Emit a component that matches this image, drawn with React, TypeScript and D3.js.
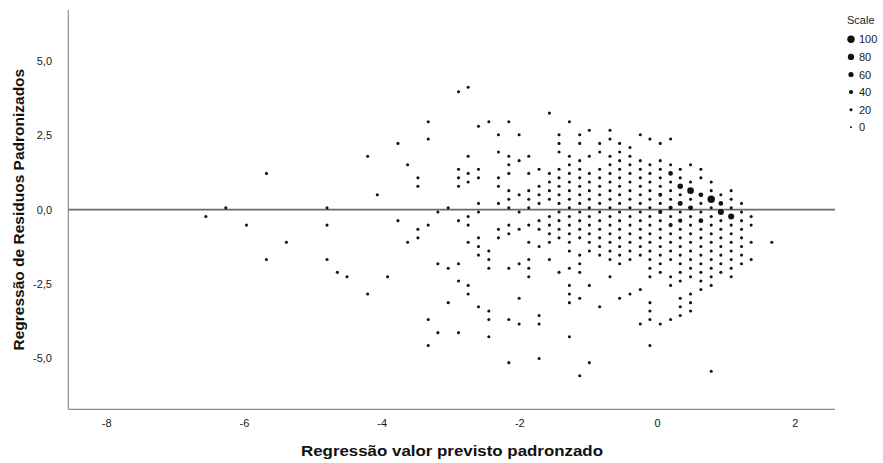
import React from "react";
import * as d3 from "d3";

// Predicted values (standardized), one entry per column of the lattice
const columnPredicted: number[] = [
  -6.56, -6.27, -5.97, -5.68, -5.39, -4.8, -4.65, -4.51, -4.21, -4.07, -3.92, -3.77, -3.63, -3.48, -3.33, -3.19, -3.04,
  -2.89, -2.75, -2.6, -2.45, -2.31, -2.16, -2.01, -1.87, -1.72, -1.57, -1.43, -1.28, -1.13, -0.99, -0.84, -0.69,
  -0.55, -0.4, -0.25, -0.11, 0.04, 0.19, 0.33, 0.48, 0.63, 0.78, 0.92, 1.07, 1.22, 1.36, 1.66,
];

// Standardized residuals found in each column
const columnResiduals: number[][] = [
  [-0.23],
  [0.06],
  [-0.52],
  [1.22, -1.68],
  [-1.1],
  [0.06, -0.52, -1.68],
  [-2.11],
  [-2.26],
  [1.8, -2.84],
  [0.5],
  [-2.26],
  [2.23, -0.37],
  [1.51, -1.1],
  [1.07, 0.79, -0.66, -0.95],
  [2.96, 2.38, -0.52, -3.7, -4.57],
  [-0.08, -1.82, -4.14],
  [0.06, -1.97, -3.13],
  [3.97, 1.36, 1.07, 0.79, -0.37, -1.82, -2.4, -4.14],
  [4.12, 1.8, 1.22, 0.93, -0.23, -0.52, -1.1, -2.55, -2.84],
  [2.81, 1.36, 1.07, 0.21, -0.08, -0.95, -1.24, -1.53, -3.27],
  [2.96, -1.39, -1.68, -1.97, -3.41, -3.7, -4.28],
  [2.52, 1.94, 1.07, 0.79, 0.21, -0.66, -0.95],
  [2.96, 1.8, 1.51, 1.22, 0.64, 0.35, 0.06, -0.52, -0.81, -1.97, -3.7, -5.15],
  [2.52, 1.65, 0.5, -0.08, -0.66, -1.82, -2.98, -3.85],
  [1.8, 1.22, 0.64, 0.35, 0.06, -0.52, -1.1, -1.68, -1.97, -2.26],
  [1.36, 0.79, 0.5, 0.21, -0.37, -0.66, -1.24, -3.56, -3.85, -5.01],
  [3.25, 1.22, 0.93, 0.64, 0.35, -0.23, -0.52, -0.81, -1.1, -1.68],
  [2.52, 2.23, 1.94, 1.36, 1.07, 0.79, 0.5, 0.21, -0.08, -0.37, -0.66, -0.95, -2.11],
  [2.96, 1.8, 1.51, 1.22, 0.93, 0.64, 0.35, 0.06, -0.23, -0.52, -0.81, -1.1, -1.39, -1.97, -2.55, -2.84, -3.13, -4.28],
  [2.52, 2.23, 1.65, 1.36, 1.07, 0.79, 0.5, 0.21, -0.08, -0.37, -0.66, -0.95, -1.53, -1.82, -2.11, -2.98, -5.59],
  [2.67, 1.8, 1.22, 0.93, 0.64, 0.35, 0.06, -0.23, -0.52, -0.81, -1.1, -1.39, -2.55, -5.15],
  [2.23, 1.94, 1.36, 1.07, 0.79, 0.5, 0.21, -0.08, -0.37, -0.66, -0.95, -1.24, -1.53, -3.27],
  [2.67, 2.38, 1.8, 1.51, 1.22, 0.93, 0.64, 0.35, 0.06, -0.23, -0.52, -0.81, -1.1, -1.39, -1.68, -2.26],
  [2.23, 1.94, 1.65, 1.36, 1.07, 0.79, 0.5, 0.21, -0.08, -0.37, -0.66, -0.95, -1.24, -1.53, -1.82, -2.98],
  [2.09, 1.8, 1.51, 1.22, 0.93, 0.64, 0.35, 0.06, -0.23, -0.52, -0.81, -1.1, -1.39, -1.68, -2.84],
  [2.52, 1.65, 1.36, 1.07, 0.79, 0.5, 0.21, -0.08, -0.37, -0.66, -0.95, -1.24, -1.53, -2.69, -3.85],
  [2.38, 1.51, 1.22, 0.93, 0.64, 0.35, 0.06, -0.23, -0.52, -0.81, -1.1, -1.39, -1.68, -1.97, -2.26, -3.13, -3.41, -3.7, -4.57],
  [2.23, 1.65, 1.36, 1.07, 0.79, 0.5, 0.21, -0.08, -0.37, -0.66, -0.95, -1.24, -1.53, -1.82, -2.11, -3.85],
  [2.38, 1.51, 1.22, 0.93, 0.64, 0.35, 0.06, -0.23, -0.52, -0.81, -1.1, -1.39, -1.68, -2.26, -2.55, -3.7],
  [1.36, 1.07, 0.79, 0.5, 0.21, -0.08, -0.37, -0.66, -0.95, -1.24, -1.53, -1.82, -2.11, -2.4, -2.98, -3.27, -3.56],
  [1.51, 0.93, 0.64, 0.35, 0.06, -0.23, -0.52, -0.81, -1.1, -1.39, -1.68, -1.97, -2.26, -2.84, -3.13, -3.41],
  [1.36, 1.07, 0.5, 0.21, -0.08, -0.37, -0.66, -0.95, -1.24, -1.53, -1.82, -2.11, -2.4, -2.69],
  [0.93, 0.64, 0.35, 0.06, -0.23, -0.52, -0.81, -1.1, -1.39, -1.68, -1.97, -2.26, -2.55, -5.44],
  [0.5, 0.21, -0.08, -0.37, -0.66, -0.95, -1.24, -1.53, -1.82, -2.11],
  [0.64, 0.35, 0.06, -0.23, -0.52, -0.81, -1.1, -1.39, -1.68, -1.97, -2.26],
  [0.21, -0.08, -0.37, -0.66, -0.95, -1.24, -1.53, -1.82],
  [-0.23, -0.52, -1.1, -1.68],
  [-1.1],
];

// Points whose Scale value is larger than the common one
const heavyPredicted: number[] = [0.19, 0.33, 0.33, 0.48, 0.48, 0.63, 0.63, 0.78, 0.92, 0.92, 1.07, 0.04, 0.19, 0.33, 0.19, 0.04];
const heavyResidual: number[] = [1.22, 0.79, 0.21, 0.64, 0.06, 0.5, -0.37, 0.35, 0.21, -0.08, -0.23, -0.08, -0.52, -0.37, 0.06, 0.5];
const heavyScale: number[] = [50, 65, 55, 85, 55, 50, 50, 100, 50, 75, 75, 40, 40, 40, 40, 35];

const commonScale = 20;

const xTicks: number[] = [-8, -6, -4, -2, 0, 2];
const yTicks: number[] = [-5, -2.5, 0, 2.5, 5];
const legendValues: number[] = [100, 80, 60, 40, 20, 0];

const FONT = "'Liberation Sans', Arial, Helvetica, sans-serif";

export default function App() {
  const x = d3.scaleLinear().domain([-8.558, 2.578]).range([68.3, 835]);
  const y = d3.scaleLinear().domain([-6.72, 6.72]).range([409.3, 10]);
  const r = d3.scaleLinear().domain([0, 100]).range([1, 3.7]);

  const points: { px: number; py: number; s: number }[] = [];
  columnPredicted.forEach((p, i) => {
    columnResiduals[i].forEach((res) => points.push({ px: p, py: res, s: commonScale }));
  });
  heavyPredicted.forEach((p, i) => points.push({ px: p, py: heavyResidual[i], s: heavyScale[i] }));

  const fmtY = (v: number) => v.toFixed(1).replace(".", ",");
  const [x0, x1] = x.range();
  const [yb, yt] = y.range();

  return (
    <svg
      width={883}
      height={463}
      style={{ position: "absolute", left: 0, top: 0, background: "#fff" }}
      fontFamily={FONT}
    >
      <rect x={0} y={0} width={883} height={463} fill="#fff" />
      {/* axes */}
      <line x1={x0} x2={x0} y1={yt} y2={yb} stroke="#8c8c8c" strokeWidth={1.2} />
      <line x1={x0} x2={x1} y1={yb} y2={yb} stroke="#8c8c8c" strokeWidth={1.2} />
      {/* reference line at zero */}
      <line x1={x0} x2={x1} y1={y(0)} y2={y(0)} stroke="#6b6b6b" strokeWidth={1.6} />

      {yTicks.map((t) => (
        <text key={"y" + t} x={52} y={y(t) + 4} fontSize={11} textAnchor="end" fill="#1a1a1a">
          {fmtY(t)}
        </text>
      ))}
      {xTicks.map((t) => (
        <text key={"x" + t} x={x(t)} y={427} fontSize={11} textAnchor="middle" fill="#1a1a1a">
          {String(t)}
        </text>
      ))}

      {points.map((d, i) => (
        <circle key={i} cx={x(d.px)} cy={y(d.py)} r={r(d.s)} fill="#111" />
      ))}

      <text
        x={452}
        y={456}
        fontSize={15}
        fontWeight="bold"
        textAnchor="middle"
        fill="#111"
        textLength={302}
        lengthAdjust="spacingAndGlyphs"
      >
        Regressão valor previsto padronzado
      </text>
      <text
        transform={`translate(24, ${y(0)}) rotate(-90)`}
        fontSize={15.5}
        fontWeight="bold"
        textAnchor="middle"
        fill="#111"
      >
        Regressão de Residuos Padronizados
      </text>

      {/* legend */}
      <text x={847} y={24} fontSize={11} fill="#1a1a1a">
        Scale
      </text>
      {legendValues.map((v, i) => (
        <g key={"l" + v}>
          <circle cx={851} cy={39.3 + i * 17.6} r={r(v)} fill="#111" />
          <text x={859} y={39.3 + i * 17.6 + 4} fontSize={11} fill="#1a1a1a">
            {String(v)}
          </text>
        </g>
      ))}
    </svg>
  );
}
